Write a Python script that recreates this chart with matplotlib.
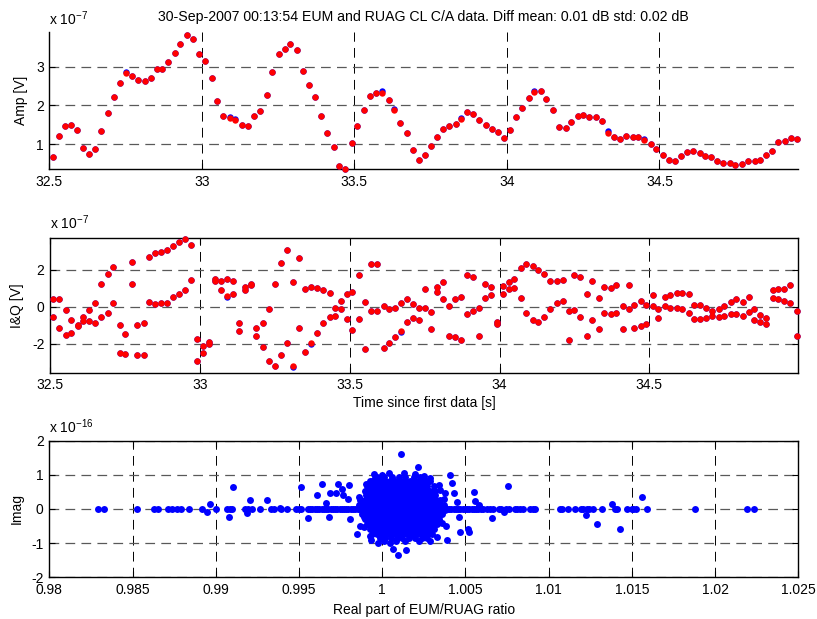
import numpy as np
import matplotlib
matplotlib.use('Agg')
import matplotlib.pyplot as plt

plt.rcParams['font.family'] = ['Liberation Sans', 'DejaVu Sans']
plt.rcParams['font.size'] = 10
plt.rcParams['axes.unicode_minus'] = False
plt.rcParams['mathtext.fontset'] = 'custom'
plt.rcParams['mathtext.rm'] = 'Liberation Sans'
plt.rcParams['lines.scale_dashes'] = False

# sample times since first data [s]
t = [32.511, 32.531, 32.552, 32.570, 32.592, 32.611, 32.631, 32.651, 32.669, 32.692,
     32.711, 32.732, 32.751, 32.772, 32.791, 32.813, 32.832, 32.852, 32.871, 32.890,
     32.911, 32.930, 32.952, 32.971, 32.992, 33.011, 33.032, 33.051, 33.069, 33.091,
     33.110, 33.130, 33.150, 33.170, 33.189, 33.212, 33.231, 33.252, 33.271, 33.290,
     33.311, 33.331, 33.351, 33.371, 33.392, 33.411, 33.433, 33.451, 33.470, 33.491,
     33.509, 33.531, 33.551, 33.571, 33.591, 33.613, 33.631, 33.651, 33.672, 33.692,
     33.712, 33.731, 33.752, 33.770, 33.792, 33.811, 33.833, 33.851, 33.870, 33.890,
     33.910, 33.932, 33.950, 33.972, 33.991, 34.011, 34.030, 34.048, 34.071, 34.089,
     34.111, 34.129, 34.150, 34.170, 34.193, 34.211, 34.232, 34.249, 34.270, 34.292,
     34.310, 34.331, 34.350, 34.371, 34.390, 34.412, 34.431, 34.449, 34.471, 34.490,
     34.511, 34.530, 34.552, 34.570, 34.591, 34.610, 34.633, 34.650, 34.669, 34.690,
     34.709, 34.731, 34.749, 34.771, 34.790, 34.812, 34.831, 34.849, 34.870, 34.889,
     34.911, 34.930, 34.950, 34.969, 34.991]

# amplitude [1e-7 V], RUAG
amp_ruag = [0.655, 1.216, 1.474, 1.49, 1.36, 0.905, 0.733, 0.88, 1.33, 1.81,
            2.216, 2.586, 2.83, 2.76, 2.66, 2.64, 2.72, 2.93, 2.95, 3.12,
            3.35, 3.60, 3.81, 3.72, 3.33, 3.155, 2.70, 2.12, 1.72, 1.68,
            1.62, 1.50, 1.47, 1.73, 1.845, 2.27, 2.87, 3.33, 3.47, 3.60,
            3.43, 2.90, 2.53, 2.22, 1.73, 1.28, 0.93, 0.43, 0.36, 1.02,
            1.47, 1.87, 2.24, 2.33, 2.33, 2.15, 1.88, 1.55, 1.28, 0.845,
            0.586, 0.707, 0.957, 1.19, 1.40, 1.47, 1.53, 1.64, 1.82, 1.79,
            1.62, 1.50, 1.39, 1.30, 1.16, 1.36, 1.70, 1.92, 2.18, 2.34,
            2.36, 2.155, 1.87, 1.44, 1.41, 1.56, 1.73, 1.76, 1.71, 1.70,
            1.59, 1.29, 1.17, 1.13, 1.22, 1.17, 1.19, 1.10, 0.99, 0.87,
            0.71, 0.595, 0.56, 0.69, 0.79, 0.82, 0.77, 0.68, 0.655, 0.57,
            0.52, 0.52, 0.46, 0.48, 0.57, 0.57, 0.595, 0.707, 0.83, 1.05,
            1.09, 1.15, 1.14]
# EUM amplitude differs from RUAG only at a few samples
amp_eum_diff = {12: 2.86, 29: 1.71, 30: 1.66, 54: 2.38, 56: 1.91,
                67: 1.68, 79: 2.38, 91: 1.33, 97: 1.14}

# in-phase / quadrature [1e-7 V], RUAG
i_ruag = [0.40, 0.43, -0.20, -0.74, -1.00, -0.58, -0.20, 0.22, 1.21, 1.77,
          2.17, -1.01, -1.48, 2.43, -1.00, -0.89, 2.68, 2.90, 2.95, 3.06,
          3.28, 3.49, 3.69, 3.38, -1.77, -2.12, -1.90, 1.52, 1.41, 1.52,
          1.41, -0.87, 1.05, 1.23, -1.16, -0.89, -0.11, 1.21, 2.35, 3.08,
          1.34, 2.66, 0.98, 1.09, 1.03, 0.92, 0.74, -0.04, 0.33, 0.72,
          0.80, 1.70, 0.27, 2.30, 2.30, 0.04, -0.14, -0.04, 0.20, 0.40,
          0.14, -0.09, 0.94, -0.27, 1.09, 1.36, 0.04, 0.43, 0.51, 1.72,
          1.59, -0.09, 1.23, 1.05, -0.85, 1.12, 1.36, 1.52, 2.12, 2.32,
          2.24, 1.99, 1.77, 1.41, 1.39, 1.48, -0.24, 1.72, 1.59, 0.69,
          1.41, 0.45, 1.10, 1.03, 1.16, 0.04, 1.16, 0.09, 0.31, 0.09,
          0.63, -0.14, 0.51, 0.63, 0.76, 0.76, 0.69, 0.09, 0.09, -0.09,
          -0.22, -0.14, 0.04, 0.27, 0.40, 0.27, 0.51, -0.14, -0.45, -0.63,
          0.92, 0.98, 0.98, 1.16, -0.22]
q_ruag = [-0.58, -1.16, -1.54, -1.41, -1.05, -0.80, -0.80, -0.89, -0.58, -0.34,
          0.22, -2.50, -2.55, 1.21, -2.61, -2.61, 0.27, 0.14, 0.22, 0.22,
          0.51, 0.71, 0.92, 1.47, -2.95, -2.50, -2.01, 1.39, 0.92, 0.58,
          0.69, -1.34, 0.90, 1.16, -1.59, -2.19, -2.95, -3.20, -2.61, -1.95,
          -3.22, -1.16, -2.43, -1.99, -1.41, -0.89, -0.58, -0.51, -0.11, -0.69,
          -1.28, -0.69, -2.30, -0.22, -0.25, -2.23, -1.95, -1.63, -1.32, -0.81,
          -0.63, -0.72, -0.09, -1.23, 0.81, 0.43, -1.57, -1.63, -1.81, -0.40,
          -0.22, -1.57, 0.45, 0.63, -0.94, 0.69, 0.98, 1.03, 0.45, -0.33,
          -0.74, -0.81, -0.56, -0.14, 0.22, 0.34, -1.81, -0.16, -0.56, -1.57,
          -0.74, -1.21, -0.33, -0.38, -0.34, -1.23, -0.14, -1.16, -1.07, -0.94,
          0.04, -0.63, 0.04, -0.09, -0.04, -0.14, -0.33, -0.69, -0.69, -0.63,
          -0.51, -0.56, -0.51, -0.38, -0.38, -0.51, -0.27, -0.74, -0.81, -0.94,
          0.45, 0.40, 0.34, 0.22, -1.59]
i_eum_diff = {16: 2.72, 20: 3.31}
q_eum_diff = {29: 0.53, 40: -3.26, 43: -2.03, 58: -1.37}

# EUM/RUAG ratio: points lying on the real axis [real part]
axis_re = [0.98294, 0.98328, 0.98525, 0.98631, 0.98653, 0.98711, 0.98737, 0.98765,
           0.98791, 0.98837, 0.98915, 0.99001, 0.99065, 0.99087, 0.99097, 0.99176,
           0.99194, 0.99220, 0.99264, 0.99332, 0.99350, 0.99390, 0.99430, 0.99482,
           0.99500, 0.99510,
           0.99555, 0.99568, 0.99581, 0.99596, 0.99610, 0.99622, 0.99637, 0.99650,
           0.99664, 0.99676, 0.99690, 0.99705, 0.99718, 0.99730, 0.99745, 0.99757,
           0.99771, 0.99785, 0.99797, 0.99812, 0.99825, 0.99838, 0.99852, 0.99866,
           0.99878,
           1.00390, 1.00403, 1.00416, 1.00430, 1.00443, 1.00456, 1.00470, 1.00483,
           1.00497, 1.00510, 1.00524, 1.00537, 1.00550, 1.00565, 1.00578, 1.00592,
           1.00603, 1.00628, 1.00648, 1.00668, 1.00704, 1.00712, 1.00744, 1.00760,
           1.00798, 1.00812, 1.00828, 1.00844, 1.00888, 1.00904, 1.00918, 1.01068,
           1.01082, 1.01118, 1.01158, 1.01194, 1.01208, 1.01228, 1.01244, 1.01268,
           1.01322, 1.01398, 1.01412, 1.01472, 1.01498, 1.01508, 1.01522, 1.01588,
           1.01877, 1.02189, 1.02233]

# scattered ratio points off the real axis [real, imag 1e-16]
off_re = [0.98949, 0.98965, 0.99081, 0.99101, 0.99190, 0.99206, 0.99306, 0.99386,
          0.99510, 0.99556, 0.99606, 0.99636, 0.99662, 0.99686, 0.99680, 0.99721,
          0.99732, 0.99758, 0.99762, 0.99798, 0.99792, 0.99806, 0.99846, 0.99866,
          0.99866, 0.99893, 0.99907, 0.99921, 0.99927, 0.99937, 0.99957, 0.99977,
          0.99997, 1.00047, 1.00067, 1.00097, 1.00115, 1.00133, 1.00143, 1.00217,
          1.00287, 1.00328, 1.00348, 1.00378, 1.00385, 1.00389, 1.00407, 1.00419,
          1.00433, 1.00447, 1.00463, 1.00467, 1.00515, 1.00521, 1.00552, 1.00555,
          1.00584, 1.00658, 1.00732, 1.00754, 1.01224, 1.01288, 1.01382, 1.01428,
          1.01562,
          0.99905, 0.99860, 1.00340, 1.00370, 1.00360, 0.99890, 0.99930, 1.00290,
          1.00040, 1.00200, 0.99950, 1.00250]
off_im = [-0.09, 0.16, -0.23, 0.63, -0.11, 0.27, 0.27, 0.03,
          0.63, -0.26, 0.40, 0.73, 0.18, 0.47, -0.23, 0.46,
          0.73, 0.60, 0.41, 0.70, 0.30, -0.29, -0.72, -0.49,
          0.27, -0.23, 0.16, 0.54, -0.80, 0.81, 0.91, -1.00,
          1.00, -1.00, -1.17, -1.34, 1.62, 1.05, -1.19, 1.23,
          0.92, -0.81, 0.55, 0.46, -0.50, -0.90, 0.99, 0.75,
          0.48, 0.21, -0.23, -0.68, -0.59, -0.68, 0.49, 0.23,
          0.12, -0.27, -0.10, 0.67, -0.18, -0.43, 0.16, -0.59,
          0.34,
          0.74, 0.36, 0.70, 0.30, -0.40, -0.52, -0.92, -0.93,
          1.04, 1.02, 1.02, 0.98]

# dense cluster around 1.0015: imaginary level of each row and the real parts on it
blob_im = [0.95, 0.82, 0.68, 0.54, 0.40, 0.26, 0.12, -0.02,
           -0.16, -0.30, -0.44, -0.58, -0.72, -0.85, -0.95]
blob_re = [
    [0.9997, 1.0001, 1.0006, 1.0010, 1.0014, 1.0019, 1.0023],
    [0.99925, 0.99955, 0.99985, 1.00015, 1.00045, 1.00075, 1.00105, 1.00135, 1.00165,
     1.00195, 1.00225, 1.00255, 1.00285],
    [0.9991, 0.9994, 0.9997, 1.0000, 1.0003, 1.0006, 1.0009, 1.0012, 1.0015, 1.0018,
     1.0021, 1.0024, 1.0027, 1.0031],
    [0.99895, 0.99925, 0.99955, 0.99985, 1.00015, 1.00045, 1.00075, 1.00105, 1.00135,
     1.00165, 1.00195, 1.00225, 1.00255, 1.00285, 1.0032],
    [0.9990, 0.9993, 0.9996, 0.9999, 1.0002, 1.0005, 1.0008, 1.0011, 1.0014, 1.0017,
     1.0020, 1.0023, 1.0026, 1.0029, 1.0032],
    [0.99875, 0.99905, 0.99935, 0.99965, 0.99995, 1.00025, 1.00055, 1.00085, 1.00115,
     1.00145, 1.00175, 1.00205, 1.00235, 1.00265, 1.00295, 1.00325, 1.0035],
    [0.9986, 0.9989, 0.9992, 0.9995, 0.9998, 1.0001, 1.0004, 1.0007, 1.0010, 1.0013,
     1.0016, 1.0019, 1.0022, 1.0025, 1.0028, 1.0031, 1.0034, 1.0037],
    [0.99875, 0.99905, 0.99935, 0.99965, 0.99995, 1.00025, 1.00055, 1.00085, 1.00115,
     1.00145, 1.00175, 1.00205, 1.00235, 1.00265, 1.00295, 1.00325, 1.00355, 1.0038],
    [0.9988, 0.9991, 0.9994, 0.9997, 1.0000, 1.0003, 1.0006, 1.0009, 1.0012, 1.0015,
     1.0018, 1.0021, 1.0024, 1.0027, 1.0030, 1.0033, 1.0036],
    [0.99895, 0.99925, 0.99955, 0.99985, 1.00015, 1.00045, 1.00075, 1.00105, 1.00135,
     1.00165, 1.00195, 1.00225, 1.00255, 1.00285, 1.00315, 1.0034],
    [0.9991, 0.9994, 0.9997, 1.0000, 1.0003, 1.0006, 1.0009, 1.0012, 1.0015, 1.0018,
     1.0021, 1.0024, 1.0027, 1.0030, 1.0033],
    [0.99925, 0.99955, 0.99985, 1.00015, 1.00045, 1.00075, 1.00105, 1.00135, 1.00165,
     1.00195, 1.00225, 1.00255, 1.00285, 1.0031],
    [0.9994, 0.9997, 1.0000, 1.0003, 1.0006, 1.0009, 1.0012, 1.0015, 1.0018, 1.0021,
     1.0024, 1.0027, 1.0030],
    [0.99985, 1.00015, 1.0005, 1.0009, 1.0012, 1.0016, 1.0020, 1.0024, 1.0027],
    [1.0001, 1.0008, 1.0014, 1.0022],
]

title = '30-Sep-2007 00:13:54 EUM and RUAG CL C/A data. Diff mean: 0.01 dB std: 0.02 dB'

W, H = 817, 619
fig = plt.figure(figsize=(W / 100, H / 100), dpi=100)


def px_axes(left, top, right, bottom):
    return fig.add_axes([left / W, 1 - bottom / H, (right - left) / W, (bottom - top) / H])


def style(ax, box=True):
    ax.xaxis.grid(True, color='k', linestyle=(0, (7, 4.5)), linewidth=0.7)
    ax.yaxis.grid(True, color='0.35', linestyle=(0, (7, 4.5)), linewidth=0.9)
    ax.set_axisbelow(True)
    ax.tick_params(direction='in', length=4, width=0.8, pad=4, labelsize=10,
                   top=box, right=box)
    for side, sp in ax.spines.items():
        sp.set_linewidth(1.0)
        if side in ('top', 'right'):
            sp.set_visible(box)


mk = dict(linestyle='none', marker='o', ms=4.6, mec='none', clip_on=False, zorder=3)
mk_ratio = dict(mk, ms=5.0)

# amplitude
ax1 = px_axes(49.3, 32.3, 798.3, 169)
amp_eum = list(amp_ruag)
for k, v in amp_eum_diff.items():
    amp_eum[k] = v
n = len(amp_ruag)
ax1.plot(t[:n], amp_eum, color='#0000ff', **mk)
ax1.plot(t[:n], amp_ruag, color='#ff0000', **mk)
ax1.set_xlim(32.5, 34.955)
ax1.set_ylim(0.355, 3.89)
ax1.set_xticks([32.5, 33, 33.5, 34, 34.5])
ax1.set_xticklabels(['32.5', '33', '33.5', '34', '34.5'])
ax1.set_yticks([1, 2, 3])
ax1.set_ylabel('Amp [V]')
ax1.yaxis.set_label_coords(-0.028, 0.5)
style(ax1, box=False)

# I & Q
ax2 = px_axes(50, 237.7, 798.3, 372.7)
i_eum = list(i_ruag)
q_eum = list(q_ruag)
for k, v in i_eum_diff.items():
    i_eum[k] = v
for k, v in q_eum_diff.items():
    q_eum[k] = v
ax2.plot(t, i_eum, color='#0000ff', **mk)
ax2.plot(t, q_eum, color='#0000ff', **mk)
ax2.plot(t, i_ruag, color='#ff0000', **mk)
ax2.plot(t, q_ruag, color='#ff0000', **mk)
ax2.set_xlim(32.5, 34.997)
ax2.set_ylim(-3.58, 3.75)
ax2.set_xticks([32.5, 33, 33.5, 34, 34.5])
ax2.set_xticklabels(['32.5', '33', '33.5', '34', '34.5'])
ax2.set_yticks([-2, 0, 2])
ax2.set_ylabel('I&Q [V]')
ax2.yaxis.set_label_coords(-0.035, 0.5)
ax2.set_xlabel('Time since first data [s]')
ax2.xaxis.set_label_coords(0.5, -0.172)
style(ax2)

# ratio in the complex plane
ax3 = px_axes(49.3, 440.7, 798.3, 577.3)
ax3.plot(axis_re, [0.0] * len(axis_re), color='#0000ff', **mk_ratio)
ax3.plot(off_re, off_im, color='#0000ff', **mk_ratio)
for im, row in zip(blob_im, blob_re):
    ax3.plot(row, [im] * len(row), color='#0000ff', **mk_ratio)
ax3.set_xlim(0.98, 1.025)
ax3.set_ylim(-2, 2)
xt = [0.98, 0.985, 0.99, 0.995, 1.0, 1.005, 1.01, 1.015, 1.02, 1.025]
ax3.set_xticks(xt)
ax3.set_xticklabels(['0.98', '0.985', '0.99', '0.995', '1', '1.005', '1.01',
                     '1.015', '1.02', '1.025'])
ax3.set_yticks([-2, -1, 0, 1, 2])
ax3.set_ylabel('Imag')
ax3.yaxis.set_label_coords(-0.034, 0.5)
ax3.set_xlabel('Real part of EUM/RUAG ratio')
ax3.xaxis.set_label_coords(0.5, -0.185)
style(ax3)

# exponent labels and title
fig.text(49 / W, 1 - 25 / H, r'x 10$^{-7}$', fontsize=10, va='baseline')
fig.text(50 / W, 1 - 229.3 / H, r'x 10$^{-7}$', fontsize=10, va='baseline')
fig.text(49.3 / W, 1 - 432.7 / H, r'x 10$^{-16}$', fontsize=10, va='baseline')
fig.text(423.8 / W, 1 - 20.7 / H, title, fontsize=10.2, ha='center', va='baseline')

fig.savefig('out.png', dpi=100)
